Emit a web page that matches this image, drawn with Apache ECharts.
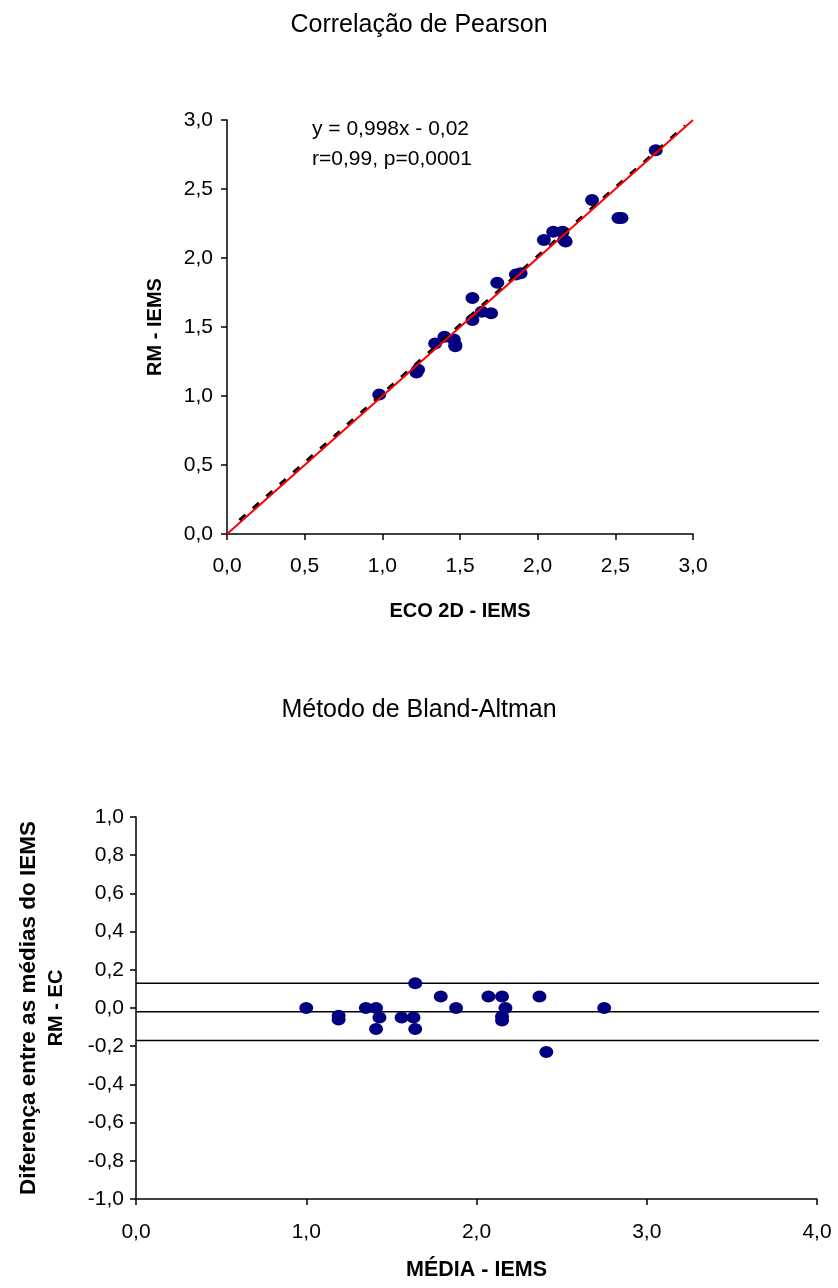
<!DOCTYPE html>
<html>
<head>
<meta charset="utf-8">
<script src="https://cdn.jsdelivr.net/npm/echarts@6/dist/echarts.min.js"></script>
<style>
html,body{margin:0;padding:0;background:#fff;}
#chart{width:838px;height:1288px;}
</style>
</head>
<body>
<div id="chart"></div>
<script>
// ---- Data: Pearson correlation (ECO 2D vs RM) ----
const ecoIEMS = [0.98, 1.22, 1.23, 1.34, 1.40, 1.46, 1.47, 1.47, 1.58, 1.58, 1.64, 1.70, 1.74, 1.86, 1.89, 2.04, 2.10, 2.16, 2.17, 2.18, 2.35, 2.52, 2.54, 2.76];
const rmIEMS  = [1.01, 1.17, 1.19, 1.38, 1.43, 1.41, 1.37, 1.36, 1.71, 1.55, 1.61, 1.60, 1.82, 1.88, 1.89, 2.13, 2.19, 2.19, 2.13, 2.12, 2.42, 2.29, 2.29, 2.78];
const identityLine = [[0, 0], [3, 3]];
const trendLine = [[0.08, 0.10], [2.95, 2.96]];
const pearsonTicks = [0, 0.5, 1.0, 1.5, 2.0, 2.5, 3.0];

// ---- Data: Bland-Altman ----
const meanIEMS = [1.00, 1.19, 1.19, 1.35, 1.41, 1.43, 1.41, 1.56, 1.63, 1.64, 1.64, 1.79, 1.88, 2.07, 2.15, 2.17, 2.15, 2.15, 2.37, 2.41, 2.75];
const diffIEMS = [0.00, -0.04, -0.06, 0.00, 0.00, -0.05, -0.11, -0.05, -0.05, 0.13, -0.11, 0.06, 0.00, 0.06, 0.06, 0.00, -0.045, -0.065, 0.06, -0.23, 0.00];
const meanDiff = -0.02;
const upperLimit = 0.13;
const lowerLimit = -0.17;
const blandXTicks = [0, 1, 2, 3, 4];
const blandYTicks = [-1, -0.8, -0.6, -0.4, -0.2, 0, 0.2, 0.4, 0.6, 0.8, 1];

const FONT = "'Liberation Sans', Arial, sans-serif";
const fmt = v => (Math.abs(v) < 1e-9 ? 0 : v).toFixed(1).replace('.', ',');
const pairs = (xs, ys) => xs.map((x, i) => [x, ys[i]]);
const hline = v => [[0, v], [4.05, v]];

const axisCommon = {
  axisLine: {show: true, onZero: false, lineStyle: {color: '#000', width: 1.5}},
  axisTick: {show: true, inside: false, length: 6, lineStyle: {color: '#000', width: 1.5}},
  splitLine: {show: false},
  nameLocation: 'middle',
  nameTextStyle: {fontFamily: FONT, fontSize: 20, fontWeight: 'bold', color: '#000'}
};

const chart = echarts.init(document.getElementById('chart'), null, {renderer: 'canvas'});
chart.setOption({
  backgroundColor: '#fff',
  animation: false,
  title: [
    {text: 'Correlação de Pearson', left: 'center', top: 8,
     textStyle: {fontFamily: FONT, fontSize: 25, fontWeight: 'normal', color: '#000'}},
    {text: 'y = 0,998x - 0,02\nr=0,99, p=0,0001', left: 307, top: 109,
     textStyle: {fontFamily: FONT, fontSize: 21, fontWeight: 'normal', color: '#000', lineHeight: 30}},
    {text: 'Método de Bland-Altman', left: 'center', top: 693,
     textStyle: {fontFamily: FONT, fontSize: 25, fontWeight: 'normal', color: '#000'}}
  ],
  grid: [
    {left: 227, top: 120, width: 466, height: 414},
    {left: 136, top: 817, width: 681, height: 382}
  ],
  xAxis: [
    Object.assign({}, axisCommon, {
      gridIndex: 0, type: 'value', min: 0, max: 3, interval: 0.5,
      name: 'ECO 2D - IEMS', nameGap: 67,
      axisLabel: {fontFamily: FONT, fontSize: 21, color: '#000', margin: 22,
                  formatter: v => pearsonTicks.some(t => Math.abs(t - v) < 1e-6) ? fmt(v) : ''}
    }),
    Object.assign({}, axisCommon, {
      gridIndex: 1, type: 'value', min: 0, max: 4, interval: 1,
      name: 'MÉDIA - IEMS', nameGap: 60,
      nameTextStyle: {fontFamily: FONT, fontSize: 21.5, fontWeight: 'bold', color: '#000'},
      axisLabel: {fontFamily: FONT, fontSize: 21, color: '#000', margin: 23,
                  formatter: v => blandXTicks.some(t => Math.abs(t - v) < 1e-6) ? fmt(v) : ''}
    })
  ],
  yAxis: [
    Object.assign({}, axisCommon, {
      gridIndex: 0, type: 'value', min: 0, max: 3, interval: 0.5,
      name: 'RM - IEMS', nameGap: 62,
      axisLabel: {fontFamily: FONT, fontSize: 21, color: '#000', margin: 14,
                  formatter: v => pearsonTicks.some(t => Math.abs(t - v) < 1e-6) ? fmt(v) : ''}
    }),
    Object.assign({}, axisCommon, {
      gridIndex: 1, type: 'value', min: -1, max: 1, interval: 0.2,
      name: '{a|Diferença entre as médias do IEMS}\n{b|RM - EC}', nameGap: 66,
      nameTextStyle: {fontFamily: FONT, fontSize: 20, fontWeight: 'bold', color: '#000', align: 'center',
        rich: {
          a: {fontFamily: FONT, fontSize: 22.5, fontWeight: 'bold', color: '#000', lineHeight: 29},
          b: {fontFamily: FONT, fontSize: 20, fontWeight: 'bold', color: '#000', lineHeight: 27}
        }},
      axisLabel: {fontFamily: FONT, fontSize: 21, color: '#000', margin: 12,
                  formatter: v => blandYTicks.some(t => Math.abs(t - v) < 1e-6) ? fmt(v) : ''}
    })
  ],
  series: [
    {type: 'scatter', xAxisIndex: 0, yAxisIndex: 0, data: pairs(ecoIEMS, rmIEMS),
     symbol: 'circle', symbolSize: [14, 12], itemStyle: {color: '#000080', opacity: 1}, z: 2},
    {type: 'line', xAxisIndex: 0, yAxisIndex: 0, data: trendLine, symbol: 'none',
     lineStyle: {color: '#000', width: 3, type: [8, 10]}, z: 3},
    {type: 'line', xAxisIndex: 0, yAxisIndex: 0, data: identityLine, symbol: 'none',
     lineStyle: {color: '#ff0000', width: 2}, z: 4},
    {type: 'line', xAxisIndex: 1, yAxisIndex: 1, data: hline(upperLimit), symbol: 'none', clip: false,
     lineStyle: {color: '#000', width: 1.5}, z: 2},
    {type: 'line', xAxisIndex: 1, yAxisIndex: 1, data: hline(meanDiff), symbol: 'none', clip: false,
     lineStyle: {color: '#000', width: 1.5}, z: 2},
    {type: 'line', xAxisIndex: 1, yAxisIndex: 1, data: hline(lowerLimit), symbol: 'none', clip: false,
     lineStyle: {color: '#000', width: 1.5}, z: 2},
    {type: 'scatter', xAxisIndex: 1, yAxisIndex: 1, data: pairs(meanIEMS, diffIEMS),
     symbol: 'circle', symbolSize: [14, 12], itemStyle: {color: '#000080', opacity: 1}, z: 3}
  ]
});
</script>
</body>
</html>
